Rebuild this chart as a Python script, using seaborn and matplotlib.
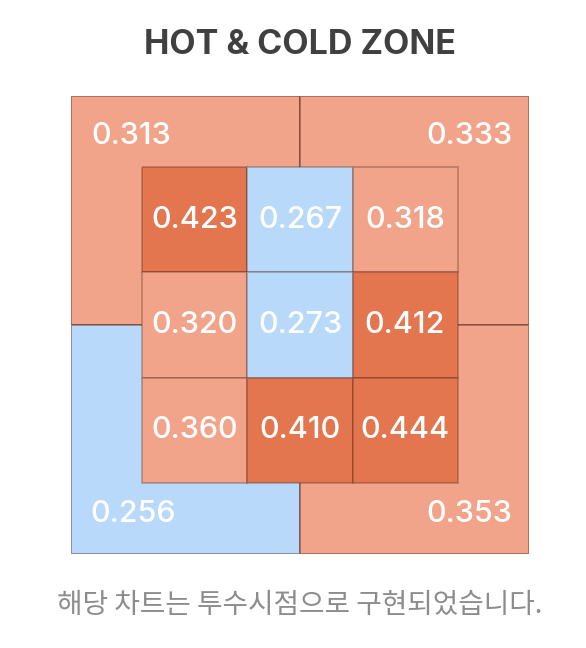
# === IMPORTS ===
import numpy as np
import pandas as pd
import seaborn as sns
import matplotlib.pyplot as plt
from matplotlib.colors import ListedColormap, BoundaryNorm
from matplotlib.patches import Rectangle

# === DATA ===
zone_rows = ["high", "middle", "low"]
zone_cols = ["left", "center", "right"]
zone_values = [
    [0.423, 0.267, 0.318],
    [0.320, 0.273, 0.412],
    [0.360, 0.410, 0.444],
]
# outer quadrants: top-left, top-right, bottom-left, bottom-right
outer_names = ["top_left", "top_right", "bottom_left", "bottom_right"]
outer_values = [0.313, 0.333, 0.256, 0.353]

title_text = "HOT & COLD ZONE"
footer_text = "해당 차트는 투수시점으로 구현되었습니다."

# === SETTINGS ===
sns.set_theme(style="white")
plt.rcParams["font.family"] = ["Inter", "DejaVu Sans"]

zone_colors = ["#B9D9FA", "#F2A48A", "#E3754F"]
cmap = ListedColormap(zone_colors)
norm = BoundaryNorm([0.0, 0.3, 0.4, 1.0], cmap.N)
outer_edge = (0.25, 0.1, 0.05, 0.38)
inner_edge = (0.25, 0.1, 0.05, 0.26)
margin = 0.68
number_size = 22

df = pd.DataFrame(zone_values, index=zone_rows, columns=zone_cols)

fig = plt.figure(figsize=(5.86, 6.48), dpi=100)
ax = fig.add_axes([71 / 586, 94 / 648, 458 / 586, 458 / 648])

# === OUTER QUADRANTS ===
lo, hi, mid = -margin, 3 + margin, 1.5
quad_boxes = {
    "top_left": (lo, lo),
    "top_right": (mid, lo),
    "bottom_left": (lo, mid),
    "bottom_right": (mid, mid),
}
label_spots = {
    "top_left": (-0.11, -0.3),
    "top_right": (3.11, -0.3),
    "bottom_left": (-0.09, 3.3),
    "bottom_right": (3.11, 3.3),
}
for name, val in zip(outer_names, outer_values):
    x0, y0 = quad_boxes[name]
    ax.add_patch(Rectangle((x0, y0), mid - lo, mid - lo,
                           facecolor=cmap(norm(val)), edgecolor=outer_edge,
                           linewidth=1.4, zorder=0.5))
    tx, ty = label_spots[name]
    ax.text(tx, ty, f"{val:.3f}", color="white", fontsize=number_size,
            fontweight="medium", ha="center", va="center", zorder=3)

# === INNER 3x3 ZONE ===
sns.heatmap(df, ax=ax, cmap=cmap, norm=norm, cbar=False,
            annot=True, fmt=".3f",
            annot_kws={"color": "white", "fontsize": number_size,
                       "fontweight": "medium"},
            linewidths=1.2, linecolor=inner_edge, square=False)

ax.set_xlim(lo, hi)
ax.set_ylim(hi, lo)
ax.set_xticks([])
ax.set_yticks([])
ax.set_xlabel("")
ax.set_ylabel("")
for s in ax.spines.values():
    s.set_visible(False)

# === TEXT ===
center_x = 300 / 586
fig.text(center_x, 1 - 45 / 648, title_text, ha="center", va="center",
         fontsize=24.5, fontweight="bold", color="#404040")
fig.text(center_x, 1 - 605 / 648, footer_text, ha="center", va="center",
         fontsize=20, color="#8C8C8C",
         family=["Noto Sans CJK KR", "DejaVu Sans"])

plt.savefig("out.png", dpi=100)
plt.close()
